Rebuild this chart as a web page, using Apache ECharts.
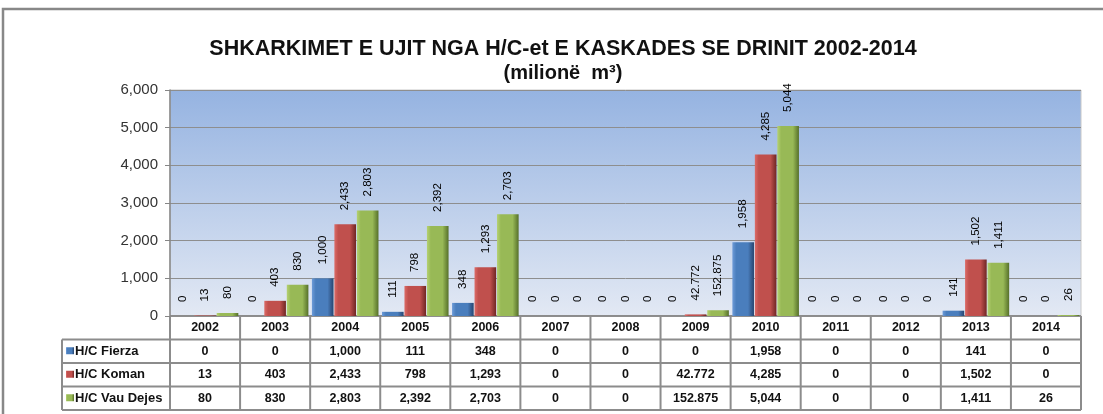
<!DOCTYPE html>
<html>
<head>
<meta charset="utf-8">
<script src="https://cdn.jsdelivr.net/npm/echarts@6/dist/echarts.min.js"></script>
<style>
  html, body { margin: 0; padding: 0; background: #fff; }
  #chart { width: 1103px; height: 414px; }
</style>
</head>
<body>
<div id="chart"></div>
<script>
// vite e shkarkimeve
var years = ['2002', '2003', '2004', '2005', '2006', '2007', '2008', '2009', '2010', '2011', '2012', '2013', '2014'];
var seriesNames = ['H/C Fierza', 'H/C Koman', 'H/C Vau Dejes'];
var fierza = [0, 0, 1000, 111, 348, 0, 0, 0, 1958, 0, 0, 141, 0];
var koman = [13, 403, 2433, 798, 1293, 0, 0, 42.772, 4285, 0, 0, 1502, 0];
var vauDejes = [80, 830, 2803, 2392, 2703, 0, 0, 152.875, 5044, 0, 0, 1411, 26];
var yTicks = [0, 1000, 2000, 3000, 4000, 5000, 6000];

// ngjyrat: [e lehte, baze, e erret]
var palette = [
  ['#6d9bd8', '#4a7ebd', '#27456f'],
  ['#dc6b67', '#c0504d', '#6f2624'],
  ['#b5d172', '#98b956', '#56702a']
];

var W = 1103, H = 414;
var gridLeft = 170, gridRight = 1081, gridTop = 90, gridBottom = 316;
var rowH = 23.5;
var tableLeft = 62;
var font = 'Liberation Sans, Arial, sans-serif';

function fmt(v) {
  return Number.isInteger(v) ? v.toLocaleString('en-US') : String(v);
}

function barColor(p) {
  return new echarts.graphic.LinearGradient(0, 0, 1, 0, [
    { offset: 0, color: p[0] },
    { offset: 0.18, color: p[1] },
    { offset: 0.72, color: p[1] },
    { offset: 1, color: p[2] }
  ]);
}

var myChart = echarts.init(document.getElementById('chart'));

var allData = [fierza, koman, vauDejes];
var series = allData.map(function(d, i) {
  return {
    name: seriesNames[i],
    type: 'bar',
    data: d,
    barGap: '4%',
    barCategoryGap: '5%',
    itemStyle: { color: barColor(palette[i]) },
    label: {
      show: true,
      position: 'top',
      rotate: 90,
      align: 'left',
      verticalAlign: 'middle',
      distance: 14,
      fontFamily: font,
      fontSize: 11.5,
      color: '#000',
      formatter: function(p) { return fmt(p.value); }
    }
  };
});

// tabela poshte grafikut
function buildTable() {
  var els = [];
  var colW = (gridRight - gridLeft) / years.length;
  var lineStyle = { stroke: '#8c8c8c', lineWidth: 2 };
  var txt = { fontFamily: font, fontSize: 12.5, fontWeight: 'bold', fill: '#111' };

  // sfondi i bardhe
  els.push({ type: 'rect', shape: { x: gridLeft, y: gridBottom, width: gridRight - gridLeft, height: rowH }, style: { fill: '#fff' } });
  els.push({ type: 'rect', shape: { x: tableLeft, y: gridBottom + rowH, width: gridRight - tableLeft, height: rowH * 3 }, style: { fill: '#fff' } });

  // vijat horizontale
  els.push({ type: 'line', shape: { x1: gridLeft, y1: gridBottom, x2: gridRight, y2: gridBottom }, style: lineStyle });
  for (var r = 1; r <= 4; r++) {
    var y = gridBottom + r * rowH;
    els.push({ type: 'line', shape: { x1: tableLeft, y1: y, x2: gridRight, y2: y }, style: lineStyle });
  }
  // vijat vertikale
  els.push({ type: 'line', shape: { x1: tableLeft, y1: gridBottom + rowH, x2: tableLeft, y2: gridBottom + 4 * rowH }, style: lineStyle });
  for (var c = 0; c <= years.length; c++) {
    var x = gridLeft + c * colW;
    els.push({ type: 'line', shape: { x1: x, y1: gridBottom, x2: x, y2: gridBottom + 4 * rowH }, style: lineStyle });
  }
  // vitet
  years.forEach(function(yr, i) {
    els.push({ type: 'text', style: Object.assign({ text: yr, x: gridLeft + (i + 0.5) * colW, y: gridBottom + rowH / 2, align: 'center', verticalAlign: 'middle' }, txt) });
  });
  // rreshtat e te dhenave
  allData.forEach(function(d, s) {
    var yc = gridBottom + (s + 1.5) * rowH;
    els.push({ type: 'rect', shape: { x: tableLeft + 4, y: yc - 4, width: 8, height: 7 }, style: { fill: barColor(palette[s]) } });
    els.push({ type: 'text', style: Object.assign({ text: seriesNames[s], x: tableLeft + 13, y: yc, align: 'left', verticalAlign: 'middle' }, txt, { fontSize: 13 }) });
    d.forEach(function(v, i) {
      els.push({ type: 'text', style: Object.assign({ text: fmt(v), x: gridLeft + (i + 0.5) * colW, y: yc, align: 'center', verticalAlign: 'middle' }, txt) });
    });
  });
  // korniza e jashtme
  els.push({ type: 'rect', shape: { x: 3, y: 9, width: W + 20, height: H + 20 }, style: { fill: 'none', stroke: '#888', lineWidth: 2.5 } });
  return els;
}

var option = {
  animation: false,
  title: {
    text: 'SHKARKIMET E UJIT NGA H/C-et E KASKADES SE DRINIT 2002-2014',
    subtext: '(milionë  m³)',
    left: 558,
    textAlign: 'center',
    top: 33,
    itemGap: 3,
    textStyle: { fontFamily: font, fontSize: 21.5, fontWeight: 'bold', color: '#111' },
    subtextStyle: { fontFamily: font, fontSize: 20, fontWeight: 'bold', color: '#111' }
  },
  grid: {
    left: gridLeft,
    right: W - gridRight,
    top: gridTop,
    bottom: H - gridBottom,
    show: true,
    borderColor: '#c8c8c8',
    borderWidth: 1,
    backgroundColor: new echarts.graphic.LinearGradient(0, 0, 0, 1, [
      { offset: 0, color: '#95b3e1' },
      { offset: 1, color: '#e3e9f4' }
    ])
  },
  xAxis: {
    type: 'category',
    data: years,
    axisLabel: { show: false },
    axisTick: { show: false },
    axisLine: { show: false }
  },
  yAxis: {
    type: 'value',
    min: yTicks[0],
    max: yTicks[yTicks.length - 1],
    interval: 1000,
    axisLine: { show: true, lineStyle: { color: '#868686', width: 1.5 } },
    axisTick: { show: true, length: 5, lineStyle: { color: '#868686' } },
    splitLine: { lineStyle: { color: '#8e8e8e', width: 1 } },
    axisLabel: {
      fontFamily: font,
      fontSize: 15,
      color: '#333',
      margin: 12,
      formatter: function(v) { return fmt(v); }
    }
  },
  series: series,
  graphic: { elements: buildTable() }
};

myChart.setOption(option);
</script>
</body>
</html>
